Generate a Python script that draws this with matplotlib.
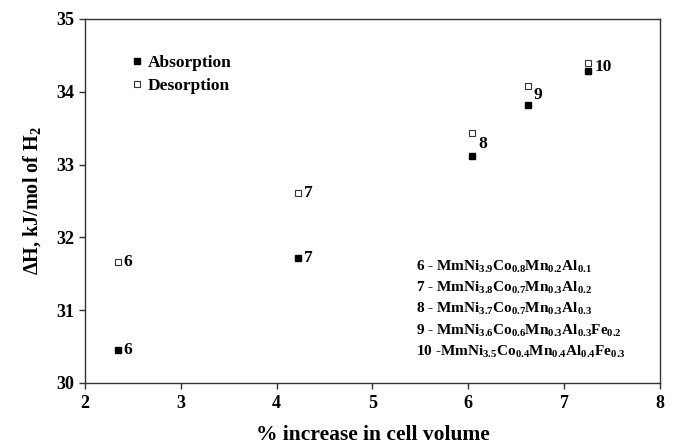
import matplotlib
matplotlib.use("Agg")
import matplotlib.pyplot as plt

plt.rcParams["font.family"] = ["Liberation Serif", "DejaVu Serif"]
plt.rcParams["font.weight"] = "bold"
plt.rcParams["mathtext.fontset"] = "custom"
plt.rcParams["mathtext.rm"] = "Liberation Serif:bold"
plt.rcParams["mathtext.it"] = "Liberation Serif:bold"
plt.rcParams["mathtext.bf"] = "Liberation Serif:bold"
plt.rcParams["mathtext.default"] = "rm"

# Alloy numbers, cell-volume expansion and hydride formation enthalpies
alloy_ids = ["6", "7", "8", "9", "10"]
volume_increase = [2.34, 4.22, 6.04, 6.62, 7.25]
dh_absorption = [30.45, 31.71, 33.12, 33.82, 34.28]
dh_desorption = [31.66, 32.61, 33.44, 34.08, 34.39]

compositions = [
    "6 - MmNi$_{3.9}$Co$_{0.8}$Mn$_{0.2}$Al$_{0.1}$",
    "7 - MmNi$_{3.8}$Co$_{0.7}$Mn$_{0.3}$Al$_{0.2}$",
    "8 - MmNi$_{3.7}$Co$_{0.7}$Mn$_{0.3}$Al$_{0.3}$",
    "9 - MmNi$_{3.6}$Co$_{0.6}$Mn$_{0.3}$Al$_{0.3}$Fe$_{0.2}$",
    "10 -MmNi$_{3.5}$Co$_{0.4}$Mn$_{0.4}$Al$_{0.4}$Fe$_{0.3}$",
]

x_ticks = [2, 3, 4, 5, 6, 7, 8]
y_ticks = [30, 31, 32, 33, 34, 35]

fig = plt.figure(figsize=(6.78, 4.46), dpi=100)
ax = fig.add_axes([0.1254, 0.1413, 0.848, 0.8161])

ax.plot(volume_increase, dh_absorption, linestyle="none", marker="s",
        markersize=4, markerfacecolor="black", markeredgecolor="black",
        label="Absorption")
ax.plot(volume_increase, dh_desorption, linestyle="none", marker="s",
        markersize=4.5, markerfacecolor="white", markeredgecolor="#333333",
        markeredgewidth=0.8, label="Desorption")

# Alloy number labels: separate for the widely spaced pairs, shared otherwise
for i, name in enumerate(alloy_ids):
    a, d = dh_absorption[i], dh_desorption[i]
    if d - a > 0.6:
        for yv in (a, d):
            ax.annotate(name, (volume_increase[i], yv), xytext=(4.5, 0),
                        textcoords="offset points", ha="left", va="center",
                        fontsize=12.5, fontweight="bold")
    else:
        ax.annotate(name, (volume_increase[i], (a + d) / 2), xytext=(4.5, 0),
                    textcoords="offset points", ha="left", va="center",
                    fontsize=12.5, fontweight="bold")

for j, comp in enumerate(compositions):
    ax.text(5.45, 31.6 - j * 0.293, comp, ha="left", va="center",
            fontsize=11, fontweight="bold")

ax.legend(loc="upper left", bbox_to_anchor=(0.07, 0.92), frameon=False,
          fontsize=12.5, handlelength=0.6, handletextpad=0.3,
          labelspacing=0.4, borderaxespad=0)

ax.set_xlim(2, 8)
ax.set_ylim(30, 35)
ax.set_xticks(x_ticks)
ax.set_yticks(y_ticks)
ax.tick_params(axis="both", direction="out", length=4, width=1,
               labelsize=13, top=False, right=False, color="#333333")
ax.tick_params(axis="x", pad=5)
for lab in ax.get_xticklabels() + ax.get_yticklabels():
    lab.set_fontweight("bold")
for sp in ax.spines.values():
    sp.set_color("#333333")
    sp.set_linewidth(1)

ax.set_xlabel("% increase in cell volume", fontsize=15.5, fontweight="bold",
              labelpad=9)
ax.set_ylabel("ΔH, kJ/mol of H$_2$", fontsize=14.5, fontweight="bold",
              labelpad=10)

fig.savefig("out.png", dpi=100)
